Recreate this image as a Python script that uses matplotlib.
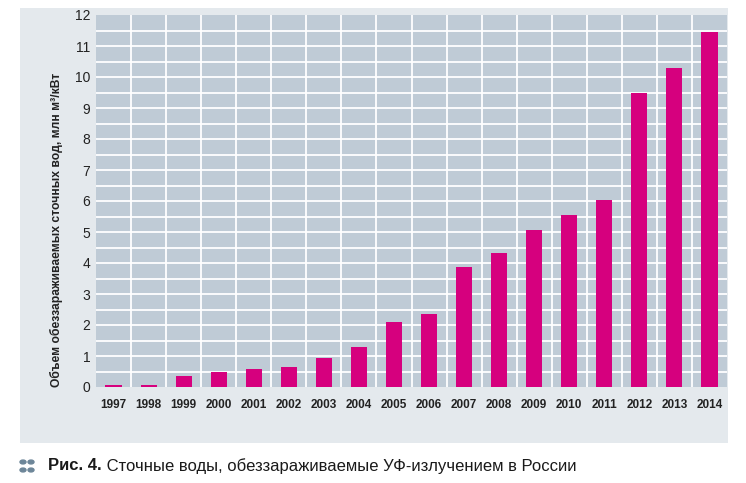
import matplotlib
matplotlib.use("Agg")
import matplotlib.pyplot as plt
from matplotlib.patches import Rectangle
import numpy as np

years = ["1997", "1998", "1999", "2000", "2001", "2002", "2003", "2004", "2005",
         "2006", "2007", "2008", "2009", "2010", "2011", "2012", "2013", "2014"]
values = [0.07, 0.07, 0.37, 0.47, 0.57, 0.66, 0.93, 1.3, 2.09,
          2.35, 3.88, 4.33, 5.06, 5.54, 6.03, 9.49, 10.28, 11.46]
y_ticks = list(range(0, 13))

ylabel = "Объем обеззараживаемых сточных вод, млн м³/кВт"
cap_bold = "Рис. 4."
cap_rest = " Сточные воды, обеззараживаемые УФ-излучением в России"

cond = ["Liberation Sans Narrow", "Liberation Sans", "DejaVu Sans"]

fig = plt.figure(figsize=(7.46, 4.83), dpi=100)
fig.patch.set_facecolor("white")

# outer panel
fig.patches.append(Rectangle((20/746, 1-443/483), 708/746, 435/483,
                             transform=fig.transFigure, facecolor="#e4e9ed",
                             edgecolor="none", zorder=-10))

ax = fig.add_axes([96/746, 1-387/483, 631/746, 372/483])
ax.set_facecolor("#bfcbd6")
x = np.arange(len(years))
ax.bar(x, values, width=0.46, color="#d6007e", zorder=3)
ax.set_xlim(-0.5, len(years)-0.5)
ax.set_ylim(0, 12)
for yv in np.arange(0.5, 12, 0.5):
    ax.axhline(yv, color="white", lw=1.3, zorder=1)
for xv in np.arange(0.5, len(years)-0.5, 1):
    ax.axvline(xv, color="white", lw=1.3, zorder=1)
for s in ax.spines.values():
    s.set_visible(False)
ax.set_yticks(y_ticks)
ax.set_yticklabels([str(t) for t in y_ticks], family=cond, fontsize=10, color="#222222")
ax.set_xticks(x)
ax.set_xticklabels(years, family=cond, fontsize=8.5, fontweight="bold", color="#222222")
ax.tick_params(length=0, pad=9)
ax.tick_params(axis="y", pad=4)
ax.set_ylabel(ylabel, family=cond, fontsize=8.7, fontweight="bold", color="#222222")
ax.yaxis.set_label_coords((63-96)/631, (387-230)/372)

# caption icon
for dx in (0, 8):
    for dy in (0, 8):
        fig.patches.append(plt.Circle(((23+dx)/746, 1-(462+dy)/483), 3.0/746,
                                      transform=fig.transFigure, color="#6d8699"))
t1 = fig.text(48/746, 1-466/483, cap_bold, family=cond, fontsize=12,
              fontweight="bold", color="#1a1a1a", va="center")
fig.canvas.draw()
bb = t1.get_window_extent()
fig.text(bb.x1/746, 1-466/483, cap_rest, family=cond, fontsize=12,
         color="#1a1a1a", va="center")

fig.savefig("out.png", dpi=100)
